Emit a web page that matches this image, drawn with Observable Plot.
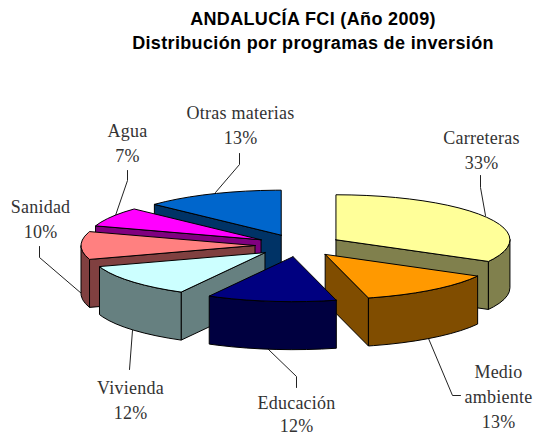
<!DOCTYPE html>
<html>
<head>
<meta charset="utf-8">
<script src="https://cdn.jsdelivr.net/npm/d3@7"></script>
<script src="https://cdn.jsdelivr.net/npm/@observablehq/plot@0.6"></script>
<style>
html,body{margin:0;padding:0;background:#fff;overflow:hidden}
#title{height:57px;width:535px;box-sizing:border-box;position:relative;font:bold 18px "Liberation Sans",Arial,sans-serif;letter-spacing:.35px;color:#000;text-align:center}
#title div{position:absolute;left:0;width:626px;white-space:nowrap}
svg{display:block}
</style>
</head>
<body>
<div id="title"><div style="top:9px">ANDALUCÍA FCI (Año 2009)</div><div style="top:33px">Distribución por programas de inversión</div></div>
<div id="chart"></div>
<script>
// Data, clockwise from 12 o'clock
const categories = ["Carreteras","Medio ambiente","Educación","Vivienda","Sanidad","Agua","Otras materias"];
const shares = [33,13,12,12,10,7,13];
const topColors = ["#FFFF99","#FF9900","#000080","#CCFFFF","#FF8080","#FF00FF","#0066CC"];
const paintOrder = ["Otras materias","Agua","Carreteras","Sanidad","Medio ambiente","Vivienda","Educación"];

// Labels
const labelLines = [["Carreteras","33%"],["Medio","ambiente","13%"],["Educación","12%"],["Vivienda","12%"],["Sanidad","10%"],["Agua","7%"],["Otras materias","13%"]];
const labelX = [481,498,296,130,40,127,240];
const labelBaseY = [143,377,408,393,212,136,118];
const labelSteps = [25,25,23,25,25,25,25];
const leaderX = [[480,480,485],[428,452,460],[268,296,296],[132,129],[39,39,81],[127,127,115],[239,239,215]];
const leaderY = [[175,187,215],[338,395,395],[349,376,387],[330,369],[246,257,293],[170,180,215],[153,164,192]];

// Pie projection
const cx = 298, cy = 245, rx = 174, ry = 45, depth = 48, explode = 0.25;
const rad = d => d * Math.PI / 180;
const half = c => { const k = d3.rgb(c); return d3.rgb(k.r/2, k.g/2, k.b/2).formatHex(); };

let acc = 0;
const slices = categories.map((name, i) => {
  const s = acc * 3.6; acc += shares[i]; const e = acc * 3.6; const m = (s + e) / 2;
  return {name, s, e, color: topColors[i],
    ax: cx + explode * rx * Math.sin(rad(m)),
    ay: cy - explode * ry * Math.cos(rad(m))};
});
const rim = (sl, t, dz = 0) => ({x: sl.ax + rx * Math.sin(rad(t)), y: sl.ay - ry * Math.cos(rad(t)) + dz});
const arc = (a, b) => { const out = []; for (let t = a; t < b; t += 5) out.push(t); out.push(b); return out; };
const closed = p => [...p, p[0]];

const faces = [];
for (const name of paintOrder) {
  const sl = slices.find(d => d.name === name);
  const dark = half(sl.color);
  const apex = {x: sl.ax, y: sl.ay}, apexD = {x: sl.ax, y: sl.ay + depth};
  const cut = t => closed([apex, rim(sl, t), rim(sl, t, depth), apexD]);
  if (Math.cos(rad(sl.s - 90)) < -1e-6) faces.push({pts: cut(sl.s), fill: dark});
  if (Math.cos(rad(sl.e + 90)) < -1e-6) faces.push({pts: cut(sl.e), fill: dark});
  const a = Math.max(sl.s, 90), b = Math.min(sl.e, 270);
  if (b > a) {
    const ts = arc(a, b);
    faces.push({pts: closed([...ts.map(t => rim(sl, t)), ...ts.slice().reverse().map(t => rim(sl, t, depth))]), fill: dark});
  }
  faces.push({pts: closed([apex, ...arc(sl.s, sl.e).map(t => rim(sl, t))]), fill: sl.color});
}

const leaders = categories.flatMap((c, i) => leaderX[i].map((x, j) => ({c, x, y: leaderY[i][j]})));
const labels = categories.flatMap((c, i) => labelLines[i].map((text, j) => ({text, x: labelX[i], y: labelBaseY[i] + j * labelSteps[i]})));

const plot = Plot.plot({
  width: 535, height: 378,
  margin: 0,
  x: {domain: [0, 535], range: [0, 535], axis: null},
  y: {domain: [57, 435], range: [0, 378], axis: null},
  marks: [
    Plot.line(leaders, {x: "x", y: "y", z: "c", stroke: "#222", strokeWidth: 1}),
    ...faces.map(f => Plot.line(f.pts, {x: "x", y: "y", fill: f.fill, stroke: "#000", strokeWidth: 1, strokeLinejoin: "round"})),
    Plot.text(labels, {x: "x", y: "y", text: "text", textAnchor: "middle", lineAnchor: "bottom", fontFamily: "Liberation Serif", fontSize: 18, fill: "#333"})
  ]
});
plot.style.background = "transparent";
plot.querySelectorAll("text").forEach(t => t.style.letterSpacing = ".25px");
document.getElementById("chart").append(plot);
</script>
</body>
</html>
